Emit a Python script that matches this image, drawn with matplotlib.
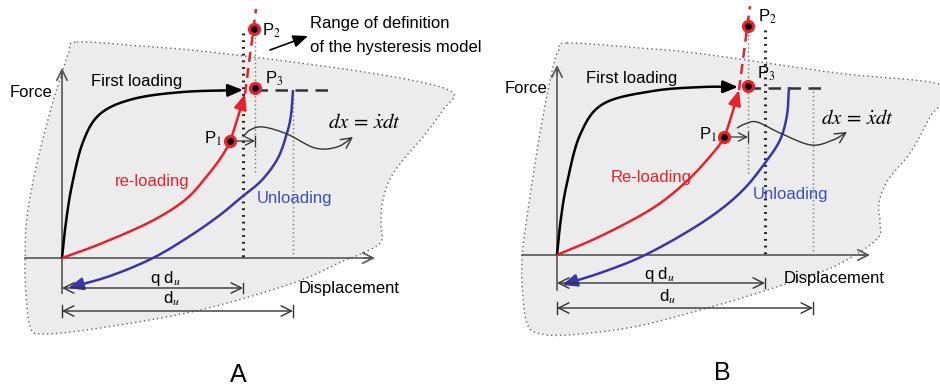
import numpy as np
import matplotlib.pyplot as plt
from matplotlib.patches import Polygon

plt.rcParams['font.family'] = ['Liberation Sans', 'DejaVu Sans']
plt.rcParams['mathtext.fontset'] = 'stix'

RED = '#e6222a'
BLUE = '#3a36a8'
BLUE_TXT = '#3b4fbf'
GREY = '#555555'

# ---- sketch geometry (pixel units, y grows downwards) ----
# panel A
blob_a = [(77, 42), (140, 46), (200, 51), (300, 63), (400, 78), (452, 92), (443, 110),
          (423, 137), (403, 160), (389, 181), (382, 205), (381, 225), (381, 242),
          (363, 253), (343, 261), (293, 283), (200, 310), (100, 328), (42, 334),
          (30, 326), (26, 295), (25, 263), (27, 217), (37, 163), (52, 105), (62, 73), (69, 52)]
first_a = [(62, 258), (66, 222), (72, 185), (83, 142), (100, 114), (133, 99), (183, 92), (243, 90)]
reload_a = [(62, 258), (100, 244), (150, 222), (185, 200), (207, 176), (222, 156), (230, 141),
            (237, 120), (245, 94)]
unload_a = [(293, 90), (291, 115), (287, 133), (278, 158), (262, 180), (243, 196), (220, 215),
            (190, 236), (153, 258), (110, 276), (68, 288)]
wave_a = [(243, 137), (250, 130), (263, 127), (287, 134), (315, 148), (337, 147), (353, 137)]
pts_a = {'P1': (230, 141), 'P2': (254, 29), 'P3': (255, 88)}

# panel B
blob_b = [(567, 43), (640, 48), (703, 54), (837, 73), (945, 86), (930, 117), (910, 153),
          (888, 180), (879, 203), (880, 223), (876, 240), (833, 267), (767, 290), (700, 310),
          (633, 327), (567, 335), (537, 333), (527, 323), (523, 297), (522, 260), (527, 217),
          (540, 133), (553, 67), (559, 50)]
first_b = [(557, 255), (561, 218), (567, 183), (580, 135), (603, 104), (653, 91), (703, 87), (738, 87)]
reload_b = [(557, 255), (603, 235), (653, 208), (687, 181), (713, 153), (724, 137), (732, 114),
            (739, 90)]
unload_b = [(789, 87), (787, 115), (780, 140), (765, 163), (745, 188), (720, 210), (687, 232),
            (643, 256), (603, 272), (562, 285)]
wave_b = [(737, 128), (745, 124), (757, 122), (780, 133), (811, 145), (833, 140), (847, 132)]
pts_b = {'P1': (724, 137), 'P2': (748, 26), 'P3': (748, 86)}


def spline(pts, n=16, closed=False):
    p = np.asarray(pts, float)
    if closed:
        p = np.vstack([p[-1], p, p[0], p[1]])
    else:
        p = np.vstack([2 * p[0] - p[1], p, 2 * p[-1] - p[-2]])
    t = np.linspace(0, 1, n, endpoint=False)[:, None]
    out = []
    for i in range(1, len(p) - 2):
        p0, p1, p2, p3 = p[i - 1], p[i], p[i + 1], p[i + 2]
        out.append(0.5 * (2 * p1 + (-p0 + p2) * t + (2 * p0 - 5 * p1 + 4 * p2 - p3) * t ** 2
                          + (-p0 + 3 * p1 - 3 * p2 + p3) * t ** 3))
    out.append(p[-2][None, :])
    return np.vstack(out)


def arrow_curve(ax, pts, color, lw=1.8, head='-|>,head_length=0.6,head_width=0.25', back=6):
    c = spline(pts)
    ax.plot(c[:-back, 0], c[:-back, 1], color=color, lw=lw, solid_capstyle='butt')
    ax.annotate('', xy=tuple(c[-1]), xytext=tuple(c[-back - 1]),
                arrowprops=dict(arrowstyle=head, color=color, lw=lw, shrinkA=0, shrinkB=0,
                                mutation_scale=15))


def open_arrow(ax, start, end, lw=1.1, color=GREY, style='->'):
    ax.annotate('', xy=end, xytext=start,
                arrowprops=dict(arrowstyle=style + ',head_length=0.5,head_width=0.25',
                                color=color, lw=lw, shrinkA=0, shrinkB=0, mutation_scale=15))


def marker(ax, xy):
    ax.plot(*xy, 'o', ms=8.5, mfc=RED, mec=RED, zorder=6)
    ax.plot(*xy, 'o', ms=3.8, mfc='black', mec='black', zorder=7)


def panel(ax, blob, first, reload, unload, wave, pts, o, x_end, y_top, q_x, d_x,
          p3_x, dash_end, y_q, y_d, low, reload_label, label_pos, letter):
    ox, oy = o
    ax.add_patch(Polygon(spline(blob, closed=True), closed=True, facecolor='#ececec',
                         edgecolor='#666666', lw=1.0, ls=(0, (1, 2.2)), zorder=0))
    # axes
    ax.plot([ox, ox], [y_top + 4, low], color=GREY, lw=1.2)
    open_arrow(ax, (ox, y_top + 10), (ox, y_top), lw=1.2)
    ax.plot([x_end[0], x_end[1] - 4], [oy, oy], color=GREY, lw=1.2)
    open_arrow(ax, (x_end[1] - 10, oy), (x_end[1], oy), lw=1.2)

    # guide lines
    p1, p2, p3 = pts['P1'], pts['P2'], pts['P3']
    ax.plot([q_x, q_x], [p2[1] + 4, oy], color='#222222', lw=2.2, ls=(0, (0.6, 1.6)),
            zorder=2)
    ax.plot([p3_x, p3_x], [p2[1], 175], color='#777777', lw=1.0, ls=(0, (1, 2)), zorder=2)
    ax.plot([d_x, d_x], [first[-1][1], oy], color='#777777', lw=1.0, ls=(0, (1, 2)), zorder=2)
    ax.plot([p3[0], dash_end], [p3[1] + 2, p3[1] + 2], color='#333333', lw=1.8,
            ls=(0, (5, 3)), zorder=2)

    # curves
    arrow_curve(ax, first, 'black')
    arrow_curve(ax, reload, RED)
    arrow_curve(ax, unload, BLUE)
    ax.plot([reload[-1][0], p2[0] + 2], [reload[-1][1], p2[1] - 20], color=RED, lw=1.8,
            ls=(0, (4, 2.5)), zorder=3)

    # dx arrow and wavy pointer
    ax.annotate('', xy=(p3_x, p1[1]), xytext=(p1[0] + 4, p1[1]),
                arrowprops=dict(arrowstyle='->,head_length=0.4,head_width=0.2', color='#333333',
                                lw=0.9, shrinkA=0, shrinkB=0, mutation_scale=15))
    ax.plot([p3_x, p3_x], [p1[1] - 5, p1[1] + 5], color='#333333', lw=0.9)
    arrow_curve(ax, wave, '#333333', lw=1.0, head='->,head_length=0.5,head_width=0.25', back=4)

    for p in (p1, p2, p3):
        marker(ax, p)

    # dimension lines
    ax.annotate('', xy=(ox, y_q), xytext=(q_x, y_q),
                arrowprops=dict(arrowstyle='<->,head_length=0.5,head_width=0.25', color='#333333',
                                lw=1.0, shrinkA=0, shrinkB=0, mutation_scale=15))
    ax.plot([q_x, q_x], [y_q - 5, y_q + 5], color='#333333', lw=1.0)
    ax.annotate('', xy=(ox, y_d), xytext=(d_x, y_d),
                arrowprops=dict(arrowstyle='<->,head_length=0.5,head_width=0.25', color='#333333',
                                lw=1.0, shrinkA=0, shrinkB=0, mutation_scale=15))
    ax.plot([ox, ox], [y_d - 6, y_d + 6], color='#333333', lw=1.0)
    ax.plot([d_x, d_x], [y_d - 6, y_d + 6], color='#333333', lw=1.0)

    lp = label_pos
    ax.text(*lp['force'], 'Force', fontsize=12, ha='center', va='center')
    ax.text(*lp['first'], 'First loading', fontsize=12, ha='center', va='center')
    ax.text(*lp['reload'], reload_label, fontsize=12, color=RED, ha='center', va='center')
    ax.text(*lp['unload'], 'Unloading', fontsize=12, color=BLUE_TXT, ha='center', va='center')
    ax.text(*lp['P1'], r'P$_{1}$', fontsize=12, ha='center', va='center')
    ax.text(*lp['P2'], r'P$_{2}$', fontsize=12, ha='center', va='center')
    ax.text(*lp['P3'], r'P$_{3}$', fontsize=12, ha='center', va='center')
    ax.text(*lp['dx'], r'$dx\,=\,\dot{x}dt$', fontsize=15, ha='center', va='center')
    ax.text(*lp['disp'], 'Displacement', fontsize=12, ha='center', va='center')
    ax.text(*lp['qdu'], r'q d$_{u}$', fontsize=12, ha='center', va='center')
    ax.text(*lp['du'], r'd$_{u}$', fontsize=12, ha='center', va='center')
    ax.text(*lp['letter'], letter, fontsize=18, ha='center', va='center')


fig = plt.figure(figsize=(9.4, 3.89), dpi=100)
ax = fig.add_axes([0, 0, 1, 1])
ax.set_xlim(0, 940)
ax.set_ylim(389, 0)
ax.axis('off')

panel(ax, blob_a, first_a, reload_a, unload_a, wave_a, pts_a, o=(62, 258), x_end=(25, 375),
      y_top=68, q_x=243, d_x=293, p3_x=255, dash_end=330, y_q=288, y_d=311, low=293,
      reload_label='re-loading',
      label_pos={'force': (31, 92), 'first': (137, 81), 'reload': (152, 181),
                 'unload': (295, 198), 'P1': (213, 139), 'P2': (271, 31), 'P3': (274, 79),
                 'dx': (364, 122), 'disp': (349, 288), 'qdu': (165, 278), 'du': (172, 299),
                 'letter': (238, 375)},
      letter='A')

panel(ax, blob_b, first_b, reload_b, unload_b, wave_b, pts_b, o=(557, 255), x_end=(522, 870),
      y_top=65, q_x=765, d_x=813, p3_x=748, dash_end=823, y_q=283, y_d=308, low=290,
      reload_label='Re-loading',
      label_pos={'force': (526, 88), 'first': (632, 78), 'reload': (651, 177),
                 'unload': (790, 194), 'P1': (708, 135), 'P2': (767, 17), 'P3': (766, 74),
                 'dx': (857, 118), 'disp': (834, 279), 'qdu': (659, 274), 'du': (668, 297),
                 'letter': (722, 373)},
      letter='B')

# pointer to the shaded region
ax.annotate('', xy=(308, 36), xytext=(270, 50),
            arrowprops=dict(arrowstyle='-|>,head_length=0.6,head_width=0.25', color='black',
                            lw=1.2, shrinkA=0, shrinkB=0, mutation_scale=15))
ax.text(310, 23, 'Range of definition', fontsize=12, ha='left', va='center')
ax.text(310, 47, 'of the hysteresis model', fontsize=12, ha='left', va='center')

fig.savefig('out.png', dpi=100, facecolor='white')
